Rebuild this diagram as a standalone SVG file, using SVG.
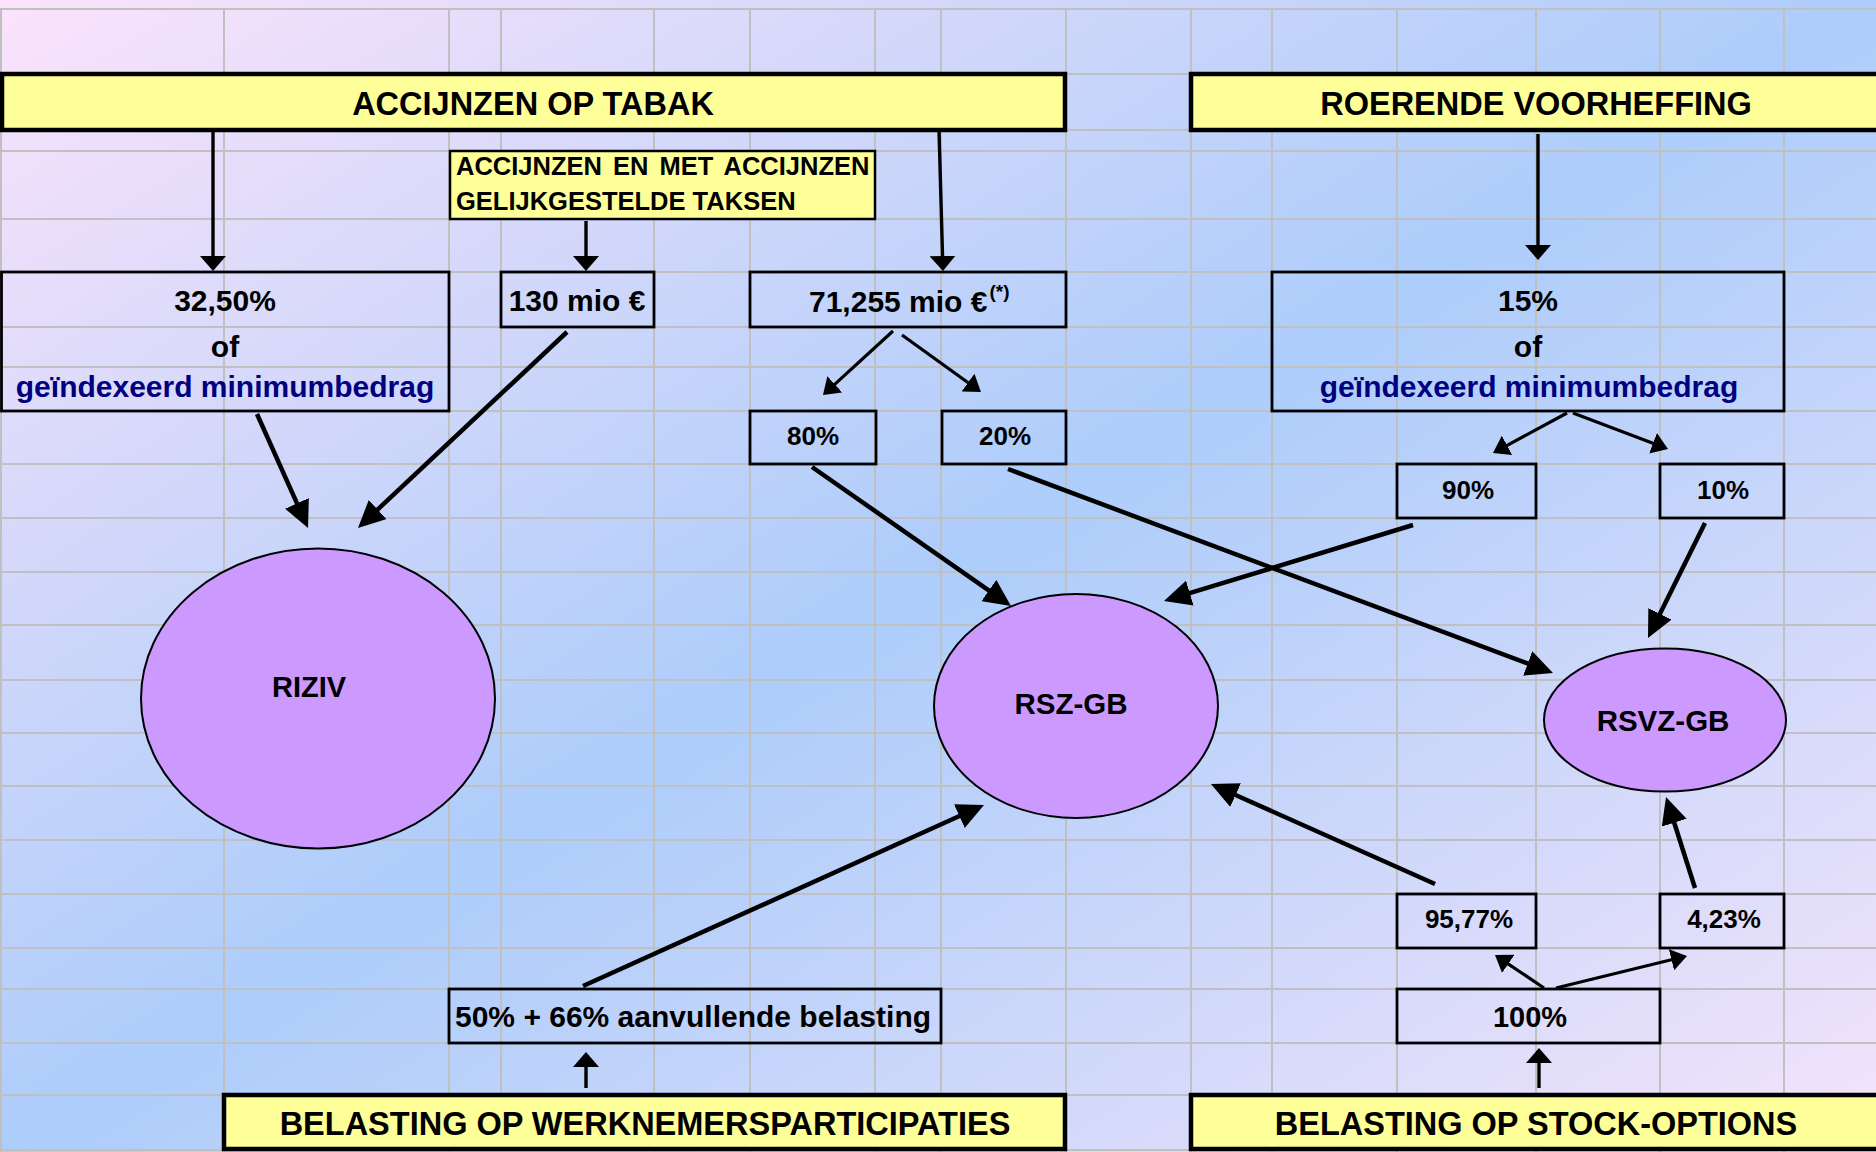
<svg xmlns="http://www.w3.org/2000/svg" width="1876" height="1152" viewBox="0 0 1876 1152">
<defs>
<linearGradient id="bg" x1="0" y1="0" x2="1" y2="1">
<stop offset="0" stop-color="#fbe3fb"/>
<stop offset="0.5" stop-color="#adcdfa"/>
<stop offset="1" stop-color="#f4e4fb"/>
</linearGradient>
<marker id="mB" markerUnits="userSpaceOnUse" markerWidth="27" markerHeight="26" refX="2" refY="13" orient="auto"><path d="M0,0 L27,13 L0,26 z" fill="#000"/></marker>
<marker id="mS" markerUnits="userSpaceOnUse" markerWidth="16" markerHeight="22" refX="2" refY="11" orient="auto"><path d="M0,0 L16,11 L0,22 z" fill="#000"/></marker>
<marker id="mV" markerUnits="userSpaceOnUse" markerWidth="15" markerHeight="26" refX="2" refY="13" orient="auto"><path d="M0,0 L15,13 L0,26 z" fill="#000"/></marker>
</defs>
<style>
.grid line{stroke:#c0c0c0;stroke-width:2}
.bar{fill:#ffff99;stroke:#000;stroke-width:4.5}
.ybox{fill:#ffff99;stroke:#000;stroke-width:2.5}
.box{fill:none;stroke:#000;stroke-width:2.8}
.ell{fill:#cc99ff;stroke:#000;stroke-width:2}
text{font-family:"Liberation Sans",Arial,sans-serif;font-weight:bold;fill:#000}
.c{text-anchor:middle}
.big{font-size:32.5px}
.m{font-size:30px}
.s{font-size:26px}
.blue{fill:#000080}
.conn line{stroke:#000}
.cb{stroke-width:4.5;marker-end:url(#mB)}
.cs{stroke-width:3.2;marker-end:url(#mS)}
.cv{stroke-width:3.4;marker-end:url(#mV)}
</style>
<rect x="0" y="0" width="1876" height="1152" fill="url(#bg)"/>
<g class="grid">
<line x1="1" y1="9" x2="1" y2="1152"/>
<line x1="224" y1="9" x2="224" y2="1152"/>
<line x1="449" y1="9" x2="449" y2="1152"/>
<line x1="501" y1="9" x2="501" y2="1152"/>
<line x1="654" y1="9" x2="654" y2="1152"/>
<line x1="750" y1="9" x2="750" y2="1152"/>
<line x1="875" y1="9" x2="875" y2="1152"/>
<line x1="941" y1="9" x2="941" y2="1152"/>
<line x1="1066" y1="9" x2="1066" y2="1152"/>
<line x1="1191" y1="9" x2="1191" y2="1152"/>
<line x1="1272" y1="9" x2="1272" y2="1152"/>
<line x1="1397" y1="9" x2="1397" y2="1152"/>
<line x1="1536" y1="9" x2="1536" y2="1152"/>
<line x1="1660" y1="9" x2="1660" y2="1152"/>
<line x1="1784" y1="9" x2="1784" y2="1152"/>
<line x1="0" y1="9" x2="1876" y2="9"/>
<line x1="0" y1="74" x2="1876" y2="74"/>
<line x1="0" y1="130" x2="1876" y2="130"/>
<line x1="0" y1="151" x2="1876" y2="151"/>
<line x1="0" y1="219" x2="1876" y2="219"/>
<line x1="0" y1="272" x2="1876" y2="272"/>
<line x1="0" y1="327" x2="1876" y2="327"/>
<line x1="0" y1="367" x2="1876" y2="367"/>
<line x1="0" y1="411" x2="1876" y2="411"/>
<line x1="0" y1="464" x2="1876" y2="464"/>
<line x1="0" y1="518" x2="1876" y2="518"/>
<line x1="0" y1="572" x2="1876" y2="572"/>
<line x1="0" y1="625" x2="1876" y2="625"/>
<line x1="0" y1="680" x2="1876" y2="680"/>
<line x1="0" y1="733" x2="1876" y2="733"/>
<line x1="0" y1="786" x2="1876" y2="786"/>
<line x1="0" y1="840" x2="1876" y2="840"/>
<line x1="0" y1="894" x2="1876" y2="894"/>
<line x1="0" y1="948" x2="1876" y2="948"/>
<line x1="0" y1="989" x2="1876" y2="989"/>
<line x1="0" y1="1043" x2="1876" y2="1043"/>
<line x1="0" y1="1095" x2="1876" y2="1095"/>
<line x1="0" y1="1150" x2="1876" y2="1150"/>
</g>
<g id="accijnzen-tabak">
<rect class="bar" x="2" y="74" width="1063" height="56"/>
<text class="c big" x="533" y="115">ACCIJNZEN OP TABAK</text>
</g>
<g id="roerende-voorheffing">
<rect class="bar" x="1191" y="74" width="700" height="56"/>
<text class="c big" x="1536" y="115">ROERENDE VOORHEFFING</text>
</g>
<g id="accijnzen-gelijkgesteld">
<rect class="ybox" x="450" y="151" width="425" height="68"/>
<text x="456" y="175" style="font-size:25.5px;word-spacing:4px">ACCIJNZEN EN MET ACCIJNZEN</text>
<text x="456" y="210" style="font-size:25.5px">GELIJKGESTELDE TAKSEN</text>
</g>
<g id="box-3250">
<rect class="box" x="1.5" y="272" width="447.5" height="139"/>
<text class="c m" x="225" y="311">32,50%</text>
<text class="c m" x="225" y="357">of</text>
<text class="c m blue" x="225" y="397">geïndexeerd minimumbedrag</text>
</g>
<g id="box-130">
<rect class="box" x="501" y="272" width="153" height="55"/>
<text class="c m" x="577" y="311">130 mio €</text>
</g>
<g id="box-71255">
<rect class="box" x="750" y="272" width="316" height="55"/>
<text class="m" x="809" y="312">71,255 mio €<tspan dx="2" dy="-14" style="font-size:19px">(*)</tspan></text>
</g>
<g id="box-80">
<rect class="box" x="750" y="411" width="126" height="53"/>
<text class="c s" x="813" y="445">80%</text>
</g>
<g id="box-20">
<rect class="box" x="942" y="411" width="124" height="53"/>
<text class="c s" x="1005" y="445">20%</text>
</g>
<g id="box-15">
<rect class="box" x="1272" y="272" width="512" height="139"/>
<text class="c m" x="1528" y="311">15%</text>
<text class="c m" x="1528" y="357">of</text>
<text class="c m blue" x="1529" y="397">geïndexeerd minimumbedrag</text>
</g>
<g id="box-90">
<rect class="box" x="1397" y="464" width="139" height="54"/>
<text class="c s" x="1468" y="499">90%</text>
</g>
<g id="box-10">
<rect class="box" x="1660" y="464" width="124" height="54"/>
<text class="c s" x="1723" y="499">10%</text>
</g>
<g id="riziv">
<ellipse class="ell" cx="318" cy="698.5" rx="177" ry="150"/>
<text class="c" x="309" y="697" style="font-size:29px">RIZIV</text>
</g>
<g id="rsz-gb">
<ellipse class="ell" cx="1076" cy="706" rx="142" ry="112"/>
<text class="c" x="1071" y="714" style="font-size:29.5px">RSZ-GB</text>
</g>
<g id="rsvz-gb">
<ellipse class="ell" cx="1665" cy="720" rx="121" ry="71.5"/>
<text class="c" x="1663" y="731" style="font-size:29.5px">RSVZ-GB</text>
</g>
<g id="box-9577">
<rect class="box" x="1397" y="894" width="139" height="54"/>
<text class="c s" x="1469" y="928">95,77%</text>
</g>
<g id="box-423">
<rect class="box" x="1660" y="894" width="124" height="54"/>
<text class="c s" x="1724" y="928">4,23%</text>
</g>
<g id="box-100">
<rect class="box" x="1397" y="989" width="263" height="54"/>
<text class="c" x="1530" y="1027" style="font-size:29px">100%</text>
</g>
<g id="box-5066">
<rect class="box" x="449" y="989" width="492" height="54"/>
<text class="m" x="455" y="1027">50% + 66% aanvullende belasting</text>
</g>
<g id="belasting-werknemersparticipaties">
<rect class="bar" x="224" y="1095" width="841" height="54"/>
<text class="c big" x="645" y="1135">BELASTING OP WERKNEMERSPARTICIPATIES</text>
</g>
<g id="belasting-stock-options">
<rect class="bar" x="1191" y="1095" width="700" height="54"/>
<text class="c big" x="1536" y="1135">BELASTING OP STOCK-OPTIONS</text>
</g>
<g class="conn" id="connectors">
<line class="cv" x1="213" y1="130" x2="213" y2="258"/>
<line class="cv" x1="586" y1="221" x2="586" y2="258"/>
<line class="cv" x1="939" y1="130" x2="942.6" y2="258"/>
<line class="cv" x1="1538" y1="134" x2="1538" y2="247"/>
<line class="cs" x1="893" y1="331" x2="833.3" y2="385.6"/>
<line class="cs" x1="902" y1="335" x2="969.6" y2="383.8"/>
<line class="cb" x1="257" y1="414" x2="297.8" y2="505.2"/>
<line class="cb" x1="567" y1="332" x2="376.2" y2="510.9"/>
<line class="cb" x1="812" y1="467" x2="990.5" y2="591.7"/>
<line class="cb" x1="1008" y1="469" x2="1529.6" y2="664.2"/>
<line class="cb" x1="1413" y1="525" x2="1187.9" y2="593.7"/>
<line class="cb" x1="1705" y1="523" x2="1659.1" y2="615.6"/>
<line class="cs" x1="1567" y1="413" x2="1505.3" y2="446.3"/>
<line class="cs" x1="1573" y1="413" x2="1654.9" y2="444"/>
<line class="cb" x1="1435" y1="884" x2="1233.8" y2="794.2"/>
<line class="cb" x1="1695" y1="888" x2="1673.6" y2="820.8"/>
<line class="cs" x1="1544" y1="988" x2="1506.6" y2="962.8"/>
<line class="cs" x1="1556" y1="988" x2="1673.4" y2="959.3"/>
<line class="cb" x1="583" y1="986" x2="961.2" y2="815.3"/>
<line class="cv" x1="586" y1="1088" x2="586" y2="1065"/>
<line class="cv" x1="1539" y1="1088" x2="1539" y2="1061"/>
</g>
</svg>
